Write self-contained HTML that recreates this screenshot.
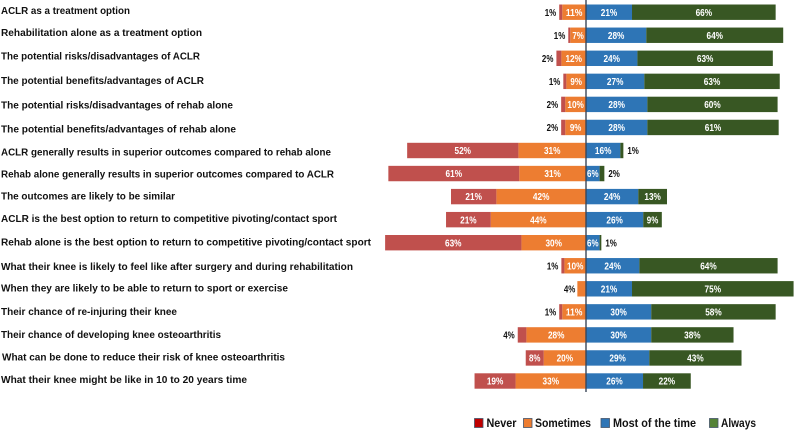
<!DOCTYPE html>
<html lang="en">
<head>
<meta charset="utf-8">
<title>Diverging stacked bar chart of treatment discussion responses</title>
<style>
  html, body { margin: 0; padding: 0; background: #ffffff; }
  body { width: 794px; height: 430px; overflow: hidden; }
  svg { display: block; filter: blur(0.3px); font-family: "Liberation Sans", sans-serif; }
  .cat { font-size: 10.5px; font-weight: 700; fill: #111111; }
  .val { font-size: 10.5px; font-weight: 700; }
  .leg { font-size: 11.5px; font-weight: 700; fill: #111111; }
</style>
</head>
<body>
<svg id="chart" xmlns="http://www.w3.org/2000/svg" width="794" height="430" viewBox="0 0 794 430">
  <g id="rows"></g>
  <line x1="586" y1="0" x2="586" y2="392" stroke="#3b4657" stroke-width="1.4"></line>
  <g>
    <g>
      <rect x="474.5" y="418.5" width="8.5" height="9" fill="#c00000" stroke="#44546a" stroke-width="0.8"></rect>
      <text class="leg" x="486.5" y="427" textLength="30" lengthAdjust="spacingAndGlyphs">Never</text>
    </g>
    <g>
      <rect x="523.5" y="418.5" width="8.5" height="9" fill="#ed7d31" stroke="#44546a" stroke-width="0.8"></rect>
      <text class="leg" x="535" y="427" textLength="56" lengthAdjust="spacingAndGlyphs">Sometimes</text>
    </g>
    <g>
      <rect x="601" y="418.5" width="8.5" height="9" fill="#2e75b6" stroke="#44546a" stroke-width="0.8"></rect>
      <text class="leg" x="613" y="427" textLength="83" lengthAdjust="spacingAndGlyphs">Most of the time</text>
    </g>
    <g>
      <rect x="709.5" y="418.5" width="8.5" height="9" fill="#548235" stroke="#44546a" stroke-width="0.8"></rect>
      <text class="leg" x="721" y="427" textLength="35" lengthAdjust="spacingAndGlyphs">Always</text>
    </g>
  </g>
</svg>
<script>
const categories = [
  "ACLR as a treatment option",
  "Rehabilitation alone as a treatment option",
  "The potential risks/disadvantages of ACLR",
  "The potential benefits/advantages of ACLR",
  "The potential risks/disadvantages of rehab alone",
  "The potential benefits/advantages of rehab alone",
  "ACLR generally results in superior outcomes compared to rehab alone",
  "Rehab alone generally results in superior outcomes compared to ACLR",
  "The outcomes are likely to be similar",
  "ACLR is the best option to return to competitive pivoting/contact sport",
  "Rehab alone is the best option to return to competitive pivoting/contact sport",
  "What their knee is likely to feel like after surgery and during rehabilitation",
  "When they are likely to be able to return to sport or exercise",
  "Their chance of re-injuring their knee",
  "Their chance of developing knee osteoarthritis",
  "What can be done to reduce their risk of knee osteoarthritis",
  "What their knee might be like in 10 to 20 years time"
];
const never     = [1.4, 0.9, 2.3, 1.4, 1.9, 1.9, 51.5, 60.6, 21.0, 20.7, 63.1, 1.4, 0, 1.4, 4.0, 8.3, 19.0];
const sometimes = [11.0, 7.3, 11.4, 9.1, 9.6, 9.6, 31.3, 30.9, 41.5, 44.1, 29.9, 10.0, 4.0, 11.0, 27.6, 19.6, 32.6];
const most      = [21.3, 27.9, 23.8, 27.0, 28.4, 28.4, 15.9, 6.3, 24.2, 26.5, 6.3, 24.7, 21.3, 30.2, 30.2, 29.3, 26.4];
const always    = [66.5, 63.4, 62.7, 62.7, 60.3, 60.8, 1.4, 2.2, 13.3, 8.6, 0.8, 64.0, 74.8, 57.6, 38.1, 42.7, 22.1];

const neverLabels     = ["1%","1%","2%","1%","2%","2%","52%","61%","21%","21%","63%","1%","","1%","4%","8%","19%"];
const sometimesLabels = ["11%","7%","12%","9%","10%","9%","31%","31%","42%","44%","30%","10%","4%","11%","28%","20%","33%"];
const mostLabels      = ["21%","28%","24%","27%","28%","28%","16%","6%","24%","26%","6%","24%","21%","30%","30%","29%","26%"];
const alwaysLabels    = ["66%","64%","63%","63%","60%","61%","1%","2%","13%","9%","1%","64%","75%","58%","38%","43%","22%"];

/* layout constants (rendered widths and vertical nudges of the category text) */
const catTextWidths = [129,201,199,203,232,235,330,333,174,336,370,352,287,176,220,283,246];
const catTextNudges = [-2,-3,-2.5,-1,0.5,1.5,1.5,0.5,-0.5,-1.5,-1,0.5,-1,-0.5,-0.5,-1,-1.5];

const SVGNS = "http://www.w3.org/2000/svg";
const AXIS_X = 586, UNIT = 2.16, ROW0 = 12.2, ROW_STEP = 23.05, BAR_H = 15.4;
const xPos = function (v) { return AXIS_X + v * UNIT; };
const yPos = function (i) { return ROW0 + i * ROW_STEP; };
const rowsEl = document.getElementById("rows");

function makeRect(parent, start, end, cy, fill) {
  const r = document.createElementNS(SVGNS, "rect");
  r.setAttribute("x", Math.min(xPos(start), xPos(end)));
  r.setAttribute("width", Math.abs(xPos(end) - xPos(start)));
  r.setAttribute("y", cy - BAR_H / 2);
  r.setAttribute("height", BAR_H);
  r.setAttribute("fill", fill);
  parent.appendChild(r);
  return r;
}

function makeValue(parent, text, x, cy, anchor, fill) {
  const t = document.createElementNS(SVGNS, "text");
  t.setAttribute("class", "val");
  t.setAttribute("x", x);
  t.setAttribute("y", cy + 3.6);
  t.setAttribute("text-anchor", anchor);
  t.setAttribute("fill", fill);
  t.setAttribute("textLength", text.length === 3 ? 16.5 : 11.5);
  t.setAttribute("lengthAdjust", "spacingAndGlyphs");
  t.textContent = text;
  parent.appendChild(t);
  return t;
}

categories.forEach(function (cat, i) {
  const cy = yPos(i);
  const g = document.createElementNS(SVGNS, "g");
  
  
  rowsEl.appendChild(g);

  const c = document.createElementNS(SVGNS, "text");
  
  
  c.setAttribute("class", "cat");
  c.setAttribute("x", i === 15 ? 2 : 1);
  c.setAttribute("y", cy + catTextNudges[i] + 3.6);
  c.setAttribute("textLength", catTextWidths[i]);
  c.setAttribute("lengthAdjust", "spacingAndGlyphs");
  c.textContent = cat;
  g.appendChild(c);

  const s = sometimes[i], n = never[i], m = most[i], a = always[i];

  const barSometimes = makeRect(g, -s, 0, cy, "#ed7d31");
  
  

  if (n > 0) {
    const barNever = makeRect(g, -s - n, -s, cy, "#c0504d");
    
    
  }

  const barMost = makeRect(g, 0, m, cy, "#2e75b6");
  
  

  const barAlways = makeRect(g, m, m + a, cy, "#385723");
  
  

  const leftEnd = xPos(-s - n);

  if (neverLabels[i]) {
    const nOutside = n < 5;
    const nx = nOutside ? leftEnd - 3 : xPos(-s - n / 2);
    const nv = makeValue(g, neverLabels[i], nx, cy, nOutside ? "end" : "middle", nOutside ? "#111111" : "#ffffff");
    
    
  }

  const sOutside = s < 5;
  const sx = sOutside ? leftEnd - 2 : xPos(-s / 2);
  const sv = makeValue(g, sometimesLabels[i], sx, cy, sOutside ? "end" : "middle", sOutside ? "#111111" : "#ffffff");
  
  

  const mv = makeValue(g, mostLabels[i], xPos(m / 2), cy, "middle", "#ffffff");
  
  

  const aOutside = a < 5;
  const ax = aOutside ? xPos(m + a) + 4 : xPos(m + a / 2);
  const av = makeValue(g, alwaysLabels[i], ax, cy, aOutside ? "start" : "middle", aOutside ? "#111111" : "#ffffff");
  
  
});
</script>
</body>
</html>
